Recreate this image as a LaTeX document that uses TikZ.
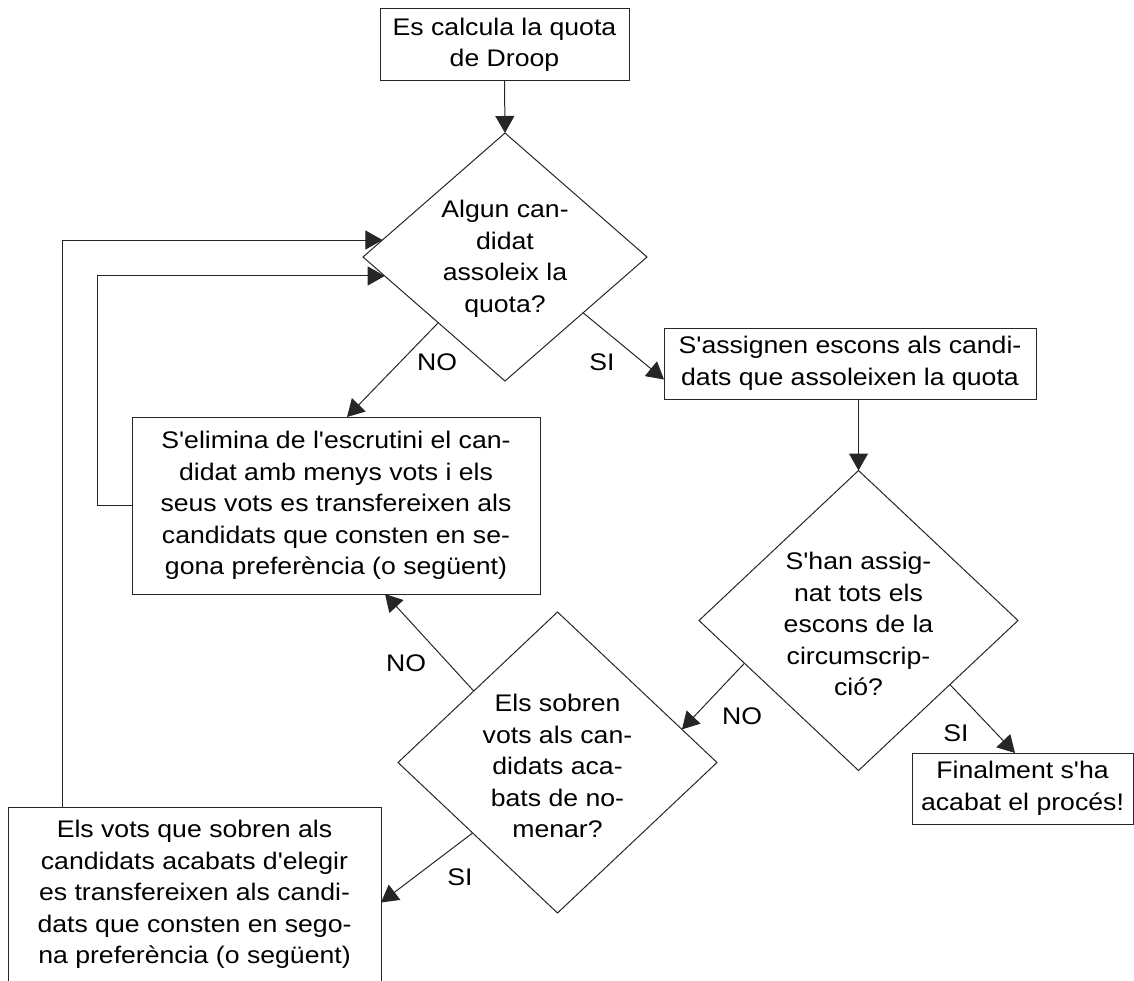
\documentclass[tikz,border=0pt]{standalone}
\usepackage{fontspec}
\setmainfont{Liberation Sans}[FakeStretch=1.11,Ligatures=TeXOff]
\usetikzlibrary{shapes.geometric,arrows.meta,calc}
\begin{document}
\begin{tikzpicture}[x=1pt,y=-1pt,
  every node/.style={outer sep=0pt, inner sep=0pt},
  ln/.style={line width=1pt, draw=black!85},
  box/.style={ln, rectangle, align=center, font=\fontsize{24}{31.5}\selectfont},
  dia/.style={ln, diamond},
  txt/.style={align=center, font=\fontsize{24}{31.5}\selectfont},
  lbl/.style={font=\fontsize{24}{31.5}\selectfont},
  arr/.style={ln, -{Triangle[length=17pt,width=19pt]}},
]
\useasboundingbox (0,0) rectangle (1134,981);

% boxes
\node[box, minimum width=249pt, minimum height=72pt] (b1) at (504.5,45)
  {Es calcula la quota\\de Droop};
\node[box, minimum width=372pt, minimum height=71pt] (b3) at (850,363.5)
  {S'assignen escons als candi-\\dats que assoleixen la quota};
\node[box, minimum width=408pt, minimum height=177pt] (b2) at (336,505.5)
  {S'elimina de l'escrutini el can-\\didat amb menys vots i els\\seus vots es transfereixen als\\candidats que consten en se-\\gona preferència (o següent)};
\node[box, minimum width=221pt, minimum height=71pt] (b4) at (1022.5,788.5)
  {Finalment s'ha\\acabat el procés!};
\node[box, minimum width=373pt, minimum height=175pt] (b5) at (194.5,894.5)
  {Els vots que sobren als\\candidats acabats d'elegir\\es transfereixen als candi-\\dats que consten en sego-\\na preferència (o següent)};

% diamonds
\node[dia, minimum width=284pt, minimum height=248pt] (d1) at (505,257) {};
\node[txt] (d1t) at (505,259) {Algun can-\\didat\\assoleix la\\quota?};
\node[dia, minimum width=319pt, minimum height=300pt] (d2) at (858.5,620.5) {};
\node[txt] (d2t) at (858.5,624) {S'han assig-\\nat tots els\\escons de la\\circumscrip-\\ció?};
\node[dia, minimum width=319pt, minimum height=301pt] (d3) at (557.5,762.5) {};
\node[txt] (d3t) at (557.5,766) {Els sobren\\vots als can-\\didats aca-\\bats de no-\\menar?};

% connectors
\draw[arr] (b1.south) -- (d1.north);
\draw[arr] ($(d1.west)!0.53!(d1.south)$) -- ([xshift=11pt]b2.north);
\draw[arr] ($(d1.south)!0.55!(d1.east)$) -- ([yshift=-16pt]b3.west);
\draw[arr] (b3.south -| d2.north) -- (d2.north);
\draw[arr] ($(d2.west)!0.285!(d2.south)$) -- ($(d3.north)!0.78!(d3.east)$);
\draw[arr] ($(d2.south)!0.573!(d2.east)$) -- ([xshift=103pt]b4.north west);
\draw[arr] ($(d3.west)!0.475!(d3.north)$) -- ([xshift=49pt]b2.south);
\draw[arr] ($(d3.west)!0.468!(d3.south)$) -- ([yshift=-8pt]b5.east);
\draw[arr] (b2.west) -- ++(-35,0) |- ($(d1.west)!0.153!(d1.south)$);
\draw[arr] ([xshift=54pt]b5.north west) |- ($(d1.west)!0.137!(d1.north)$);

% labels
\node[lbl] (l1) at (437,362) {NO};
\node[lbl] (l2) at (602,362) {SI};
\node[lbl] (l3) at (742,716) {NO};
\node[lbl] (l4) at (956,733) {SI};
\node[lbl] (l5) at (406,663) {NO};
\node[lbl] (l6) at (460,877) {SI};
\end{tikzpicture}
\end{document}
